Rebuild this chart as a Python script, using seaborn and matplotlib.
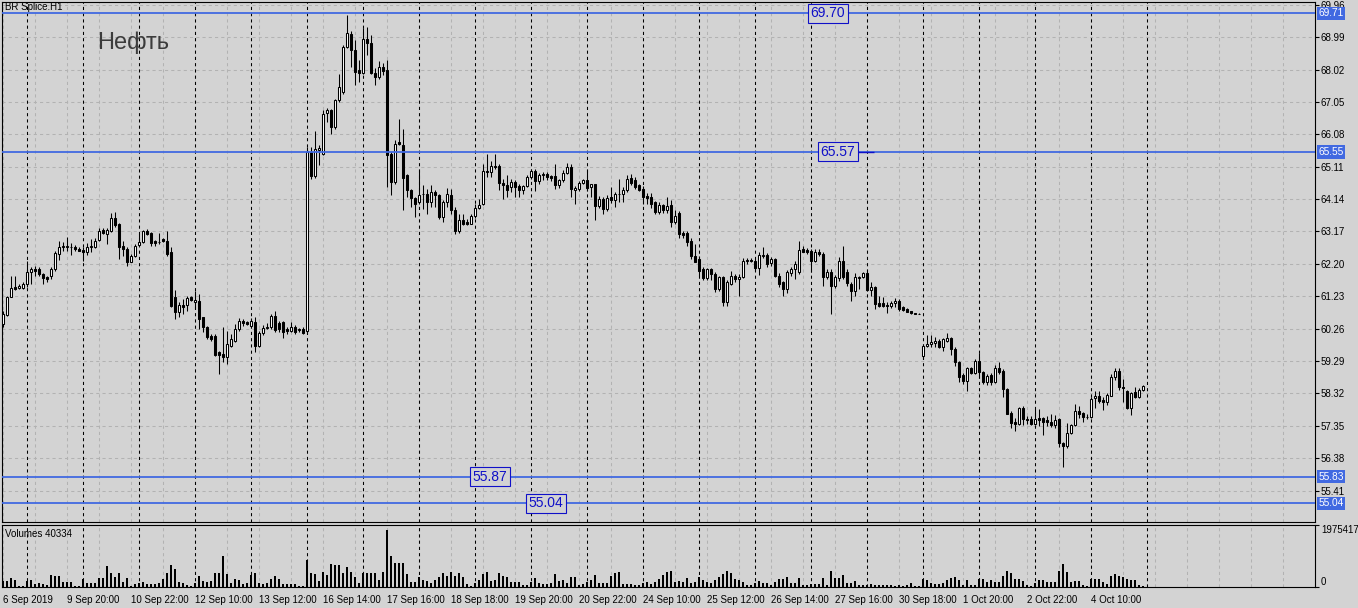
import numpy as np
import pandas as pd
import matplotlib
matplotlib.use("Agg")
import matplotlib.pyplot as plt
import matplotlib.transforms as mtransforms
import seaborn as sns

# ---------------- data ----------------
symbol_label = "BR Splice.H1"
chart_title = "Нефть"
volume_label = "Volumes 40334"

opens = [
    60.40, 60.68, 61.22, 61.50, 61.49, 61.49,
    61.60, 61.97, 62.06, 62.06, 61.90, 61.80, 61.85, 62.06, 62.50, 62.72, 62.72, 62.72, 62.70, 62.66,
    62.63, 62.55, 62.72, 62.72, 62.93, 63.20, 63.08, 63.17, 63.56, 63.38, 62.75, 62.66, 62.27, 62.45,
    62.78, 62.87, 63.17, 63.12, 62.88, 62.85, 62.94, 62.90, 62.57, 61.20, 60.75, 60.98, 60.98, 61.20,
    61.05, 61.10, 60.60, 60.30, 60.05, 60.05, 59.55, 59.50, 59.40, 59.75, 59.90, 60.26, 60.50, 60.45,
    60.35, 60.45, 59.75, 60.12, 60.28, 60.30, 60.65, 60.43, 60.45, 60.25, 60.20, 60.32, 60.22, 60.25,
    60.20, 65.55, 64.82, 65.60, 65.50, 66.72, 66.82, 66.30, 67.10, 67.35, 68.70, 69.08, 68.60, 68.00,
    67.92, 68.93, 68.80, 67.92, 67.80, 68.10, 68.00, 65.50, 64.65, 65.85, 65.77, 64.85, 64.40, 64.18,
    64.05, 64.28, 64.30, 64.05, 64.35, 64.25, 63.60, 64.05, 64.25, 63.82, 63.17, 63.50, 63.45, 63.40,
    63.62, 63.87, 64.00, 64.97, 64.95, 65.13, 65.12, 64.63, 64.55, 64.50, 64.65, 64.52, 64.42, 64.52,
    64.80, 64.97, 64.67, 64.85, 64.88, 64.82, 64.82, 64.55, 64.70, 64.93, 65.10, 64.42, 64.45, 64.62,
    64.70, 64.50, 64.60, 63.92, 64.15, 63.85, 64.20, 64.12, 64.30, 64.30, 64.40, 64.78, 64.70, 64.55,
    64.45, 64.22, 64.20, 64.05, 63.75, 63.95, 63.82, 63.95, 63.45, 63.72, 63.13, 63.13, 62.90, 62.45,
    62.35, 62.05, 61.78, 62.05, 61.90, 61.45, 61.80, 61.05, 61.60, 61.85, 61.75, 61.82, 62.30, 62.32,
    62.30, 62.08, 62.45, 62.48, 62.22, 62.35, 61.85, 61.65, 61.45, 61.93, 62.05, 61.95, 62.65, 62.62,
    62.60, 62.30, 62.57, 62.50, 61.82, 61.95, 61.55, 61.78, 62.30, 61.97, 61.60, 61.38, 61.78, 61.80,
    61.93, 61.42, 61.50, 61.03, 61.04, 60.97, 60.93, 61.03, 61.10, 60.90, 60.85, 60.78, 60.72, 60.71,
    59.45, 59.73, 59.80, 59.83, 59.90, 59.70, 59.90, 59.97, 59.65, 59.25, 58.88, 58.70, 59.08, 58.93,
    59.28, 58.97, 58.67, 58.87, 58.67, 59.08, 58.98, 58.45, 57.75, 57.47, 57.40, 57.88, 57.57, 57.57,
    57.40, 57.58, 57.58, 57.52, 57.48, 57.37, 57.55, 56.85, 56.75, 57.15, 57.37, 57.80, 57.73, 57.63,
    57.63, 58.17, 58.25, 58.12, 58.05, 58.25, 58.80, 58.98, 58.52, 58.40, 57.90, 58.35, 58.22, 58.42,
]
highs = [
    60.80, 61.25, 61.85, 61.85, 61.60, 61.65,
    62.30, 62.10, 62.15, 62.10, 61.93, 61.85, 62.10, 62.60, 62.90, 62.85, 63.00, 62.82, 62.78, 62.72,
    62.72, 62.82, 62.95, 62.98, 63.28, 63.28, 63.28, 63.72, 63.76, 63.43, 62.88, 62.72, 62.50, 62.80,
    63.10, 63.20, 63.25, 63.15, 62.92, 63.12, 62.98, 63.18, 62.70, 61.43, 61.05, 61.15, 61.25, 61.25,
    61.40, 61.30, 60.60, 60.35, 60.10, 60.10, 59.60, 60.30, 60.20, 60.10, 60.40, 60.58, 60.55, 60.50,
    60.58, 60.60, 60.20, 60.37, 60.42, 60.70, 60.80, 60.50, 60.50, 60.30, 60.45, 60.38, 60.28, 60.30,
    65.70, 65.70, 66.17, 65.75, 66.80, 66.88, 66.85, 67.15, 67.90, 68.75, 69.65, 69.17, 68.90, 68.30,
    69.25, 69.30, 69.05, 68.05, 68.27, 68.20, 68.30, 65.55, 65.90, 66.53, 66.25, 64.90, 64.45, 64.20,
    65.00, 64.55, 64.43, 64.55, 64.42, 64.30, 64.12, 64.48, 64.43, 63.90, 63.68, 63.68, 63.55, 63.70,
    64.00, 64.15, 65.20, 65.50, 65.28, 65.50, 65.20, 64.75, 64.85, 64.75, 64.72, 64.60, 64.57, 64.85,
    65.05, 65.05, 64.93, 64.95, 64.95, 64.87, 65.20, 64.75, 65.00, 65.22, 65.20, 64.52, 64.68, 64.75,
    65.00, 64.60, 64.60, 64.22, 64.20, 64.25, 64.50, 64.35, 64.75, 64.50, 64.85, 64.90, 64.80, 64.60,
    64.52, 64.33, 64.33, 64.08, 64.05, 63.98, 64.20, 64.10, 63.80, 63.78, 63.17, 63.17, 62.97, 62.80,
    62.45, 62.10, 62.08, 62.08, 61.97, 61.85, 61.85, 61.73, 61.98, 61.90, 61.90, 62.37, 62.38, 62.37,
    62.35, 62.55, 62.72, 62.52, 62.40, 62.38, 61.92, 61.70, 62.03, 62.10, 62.28, 62.90, 62.75, 62.67,
    62.65, 62.65, 62.65, 62.55, 62.05, 62.05, 61.87, 62.40, 62.75, 62.05, 61.65, 61.92, 61.85, 61.95,
    61.98, 61.65, 61.55, 61.25, 61.20, 61.07, 61.10, 61.17, 61.15, 60.93, 60.87, 60.80, 60.73, 60.72,
    59.80, 60.08, 60.08, 60.00, 59.95, 59.98, 60.12, 60.02, 59.70, 59.30, 58.93, 59.12, 59.12, 59.35,
    59.52, 59.00, 58.90, 58.93, 59.18, 59.25, 59.05, 58.48, 57.80, 57.60, 57.93, 57.95, 57.65, 57.65,
    57.85, 57.85, 57.63, 57.65, 57.72, 57.67, 57.58, 56.88, 57.45, 57.42, 58.00, 57.95, 57.78, 57.70,
    58.22, 58.38, 58.38, 58.22, 58.32, 58.90, 59.07, 59.07, 58.75, 58.43, 58.37, 58.52, 58.47, 58.58,
]
lows = [
    60.30, 60.65, 61.20, 61.43, 61.45, 61.45,
    61.52, 61.60, 61.85, 61.85, 61.60, 61.65, 61.76, 62.00, 62.33, 62.60, 62.60, 62.48, 62.60, 62.58,
    62.30, 62.48, 62.55, 62.68, 62.90, 63.08, 62.80, 63.15, 63.30, 62.35, 62.45, 62.15, 62.25, 62.42,
    62.75, 62.84, 63.05, 62.73, 62.75, 62.80, 62.86, 62.45, 60.90, 60.55, 60.60, 60.70, 60.80, 61.10,
    60.85, 60.25, 60.15, 59.95, 59.90, 59.45, 58.90, 59.25, 59.20, 59.70, 59.85, 60.20, 60.35, 60.38,
    60.33, 59.55, 59.70, 60.08, 60.25, 60.25, 60.15, 60.15, 59.98, 60.10, 60.15, 60.10, 60.15, 60.10,
    60.10, 64.75, 64.78, 65.15, 65.45, 66.45, 66.10, 66.25, 67.05, 67.30, 68.65, 68.10, 67.55, 67.65,
    67.88, 68.45, 67.88, 67.55, 67.75, 67.85, 64.50, 64.25, 64.60, 65.75, 63.80, 64.20, 63.90, 63.60,
    64.00, 63.85, 63.70, 63.90, 63.90, 63.53, 63.45, 63.90, 63.70, 63.08, 63.13, 63.35, 63.35, 63.38,
    63.58, 63.83, 63.95, 64.80, 64.80, 65.05, 64.40, 64.15, 64.20, 64.35, 64.20, 64.20, 64.30, 64.50,
    64.75, 64.37, 64.60, 64.70, 64.72, 64.68, 64.45, 64.47, 64.65, 64.88, 64.20, 64.00, 64.38, 64.60,
    64.38, 64.20, 63.50, 63.88, 63.70, 63.78, 64.02, 63.90, 64.05, 64.05, 64.35, 64.55, 64.45, 64.38,
    64.00, 64.00, 63.88, 63.70, 63.68, 63.72, 63.72, 63.30, 63.38, 62.98, 62.98, 62.75, 62.35, 62.25,
    61.85, 61.72, 61.72, 61.72, 61.37, 61.40, 60.95, 60.93, 61.58, 61.65, 61.25, 61.78, 62.20, 62.25,
    61.98, 61.88, 62.37, 62.12, 62.15, 61.80, 61.52, 61.25, 61.33, 61.85, 61.75, 61.90, 62.55, 62.50,
    61.95, 62.27, 62.45, 61.55, 61.75, 60.70, 61.48, 61.70, 61.75, 61.55, 61.10, 61.25, 61.45, 61.78,
    61.40, 61.25, 60.85, 60.90, 60.90, 60.74, 60.88, 60.90, 60.80, 60.80, 60.75, 60.70, 60.70, 60.70,
    59.35, 59.70, 59.70, 59.70, 59.67, 59.60, 59.87, 59.48, 59.15, 58.65, 58.60, 58.40, 58.90, 58.90,
    58.78, 58.60, 58.58, 58.58, 58.63, 58.90, 58.20, 57.70, 57.30, 57.20, 57.38, 57.37, 57.42, 57.38,
    57.38, 57.35, 57.08, 57.35, 57.33, 57.28, 56.72, 56.12, 56.70, 57.12, 57.35, 57.60, 57.47, 57.55,
    57.58, 57.90, 58.02, 57.82, 57.98, 58.23, 58.73, 58.42, 58.07, 57.85, 57.68, 58.18, 58.18, 58.40,
]
closes = [
    60.70, 61.22, 61.49, 61.46, 61.54, 61.60,
    61.97, 62.06, 62.00, 61.90, 61.78, 61.76, 62.06, 62.53, 62.72, 62.75, 62.72, 62.70, 62.65, 62.60,
    62.55, 62.72, 62.74, 62.90, 63.17, 63.12, 63.20, 63.56, 63.35, 62.70, 62.66, 62.27, 62.45, 62.75,
    62.86, 63.17, 63.10, 62.83, 62.83, 62.87, 62.88, 62.50, 60.95, 60.75, 60.98, 60.90, 61.17, 61.12,
    61.12, 60.55, 60.30, 60.00, 59.95, 59.48, 59.48, 59.42, 59.80, 59.95, 60.25, 60.50, 60.43, 60.40,
    60.50, 59.75, 60.12, 60.28, 60.32, 60.65, 60.22, 60.25, 60.15, 60.18, 60.32, 60.15, 60.25, 60.12,
    65.55, 64.82, 65.65, 65.68, 66.70, 66.82, 66.30, 67.10, 67.50, 68.70, 69.10, 68.60, 67.95, 67.92,
    68.93, 68.80, 67.92, 67.80, 68.10, 67.98, 65.45, 64.65, 65.80, 65.78, 64.78, 64.40, 64.18, 64.00,
    64.25, 64.30, 64.05, 64.35, 64.25, 63.60, 64.05, 64.30, 63.80, 63.17, 63.50, 63.40, 63.40, 63.62,
    63.87, 63.97, 64.97, 64.95, 65.13, 65.10, 64.62, 64.55, 64.42, 64.65, 64.50, 64.40, 64.52, 64.80,
    64.97, 64.67, 64.85, 64.88, 64.80, 64.77, 64.55, 64.70, 64.93, 65.10, 64.45, 64.48, 64.62, 64.70,
    64.48, 64.58, 63.92, 64.15, 63.85, 64.18, 64.12, 64.28, 64.30, 64.40, 64.75, 64.63, 64.50, 64.42,
    64.20, 64.17, 64.00, 63.75, 63.95, 63.82, 63.92, 63.45, 63.62, 63.10, 63.05, 62.85, 62.43, 62.27,
    62.00, 61.78, 62.05, 61.90, 61.45, 61.80, 61.05, 61.65, 61.85, 61.75, 61.82, 62.30, 62.32, 62.30,
    62.08, 62.48, 62.47, 62.20, 62.35, 61.85, 61.60, 61.45, 61.95, 62.05, 62.20, 62.62, 62.57, 62.55,
    62.30, 62.55, 62.50, 61.82, 61.95, 61.55, 61.80, 62.28, 61.82, 61.62, 61.38, 61.80, 61.82, 61.93,
    61.42, 61.50, 61.00, 60.95, 60.95, 60.95, 61.03, 61.10, 60.86, 60.83, 60.77, 60.72, 60.71, 60.71,
    59.73, 59.80, 59.85, 59.90, 59.70, 59.95, 59.97, 59.65, 59.25, 58.80, 58.68, 59.08, 58.93, 59.28,
    58.95, 58.67, 58.85, 58.67, 59.08, 58.95, 58.45, 57.72, 57.45, 57.40, 57.88, 57.55, 57.52, 57.40,
    57.55, 57.53, 57.48, 57.47, 57.37, 57.52, 56.85, 56.75, 57.15, 57.37, 57.80, 57.70, 57.62, 57.62,
    58.15, 58.25, 58.10, 58.05, 58.27, 58.80, 58.98, 58.52, 58.47, 57.90, 58.33, 58.22, 58.43, 58.55,
]
volumes_k = [
    200, 195, 271, 217, 22, 22,
    195, 217, 87, 130, 108, 76, 380, 347, 347, 163, 163, 163, 22, 22,
    239, 130, 130, 130, 271, 271, 673, 456, 325, 456, 163, 271, 22, 87,
    130, 163, 108, 108, 108, 130, 239, 456, 705, 564, 163, 130, 54, 22,
    130, 347, 195, 163, 195, 434, 434, 998, 412, 130, 239, 217, 87, 130,
    380, 434, 130, 108, 130, 239, 347, 239, 87, 87, 87, 87, 22, 22,
    868, 434, 412, 195, 477, 380, 738, 705, 705, 456, 629, 488, 304, 130,
    434, 434, 434, 434, 217, 466, 1812, 998, 759, 759, 759, 412, 163, 163,
    304, 217, 195, 130, 217, 325, 456, 347, 466, 347, 434, 304, 87, 22,
    130, 217, 412, 488, 195, 217, 456, 347, 304, 163, 163, 163, 54, 54,
    163, 271, 130, 87, 87, 130, 412, 195, 217, 130, 304, 304, 54, 108,
    163, 217, 380, 130, 130, 130, 347, 434, 488, 87, 108, 108, 54, 54,
    130, 163, 108, 163, 239, 380, 488, 521, 163, 195, 163, 271, 130, 163,
    304, 217, 163, 130, 217, 325, 412, 521, 456, 239, 217, 163, 54, 54,
    130, 195, 130, 130, 54, 163, 239, 239, 304, 130, 130, 271, 54, 54,
    108, 108, 87, 271, 54, 521, 271, 271, 380, 130, 130, 195, 54, 54,
    54, 87, 54, 54, 54, 54, 54, 22, 54, 43, 54, 130, 33, 33,
    239, 217, 130, 108, 108, 130, 217, 271, 304, 217, 54, 217, 54, 54,
    239, 239, 163, 217, 163, 163, 347, 521, 456, 239, 239, 195, 54, 22,
    130, 217, 217, 163, 163, 163, 521, 738, 488, 163, 195, 195, 54, 22,
    239, 239, 239, 163, 108, 347, 412, 347, 304, 239, 217, 217, 54, 22,
]
# bars per trading session: 6 Sep (partial) ... 4 Oct
session_days = ["6 Sep", "9 Sep", "10 Sep", "11 Sep", "12 Sep", "13 Sep", "16 Sep", "17 Sep",
                "18 Sep", "19 Sep", "20 Sep", "23 Sep", "24 Sep", "25 Sep", "26 Sep", "27 Sep",
                "30 Sep", "1 Oct", "2 Oct", "3 Oct", "4 Oct"]
bars_per_day = [6, 14, 14, 14, 14, 14, 14, 14, 14, 14, 14, 14, 14, 14, 14, 14, 14, 14, 14, 14, 14]

time_labels = ["6 Sep 2019", "9 Sep 20:00", "10 Sep 22:00", "12 Sep 10:00", "13 Sep 12:00",
               "16 Sep 14:00", "17 Sep 16:00", "18 Sep 18:00", "19 Sep 20:00", "20 Sep 22:00",
               "24 Sep 10:00", "25 Sep 12:00", "26 Sep 14:00", "27 Sep 16:00", "30 Sep 18:00",
               "1 Oct 20:00", "2 Oct 22:00", "4 Oct 10:00"]
price_ticks = [69.96, 68.99, 68.02, 67.05, 66.08, 65.11, 64.14, 63.17, 62.20, 61.23,
               60.26, 59.29, 58.32, 57.35, 56.38, 55.41]
level_values = [69.71, 65.55, 55.83, 55.04]
level_tags = ["69.71", "65.55", "55.83", "55.04"]
note_texts = ["69.70", "65.57", "55.87", "55.04"]
volume_max = 1975417

# ---------------- styling / layout ----------------
BG = "#d3d3d3"
LINE_BLUE = "#4169e1"
NOTE_BLUE = "#1010c8"
GRID = "#b2b2b2"

sns.set_style("white", rc={"axes.facecolor": BG, "figure.facecolor": BG,
                           "axes.edgecolor": "black"})
plt.rcParams["font.family"] = ["Liberation Sans", "DejaVu Sans"]

df = pd.DataFrame({"bar": np.arange(len(closes)), "open": opens, "high": highs,
                   "low": lows, "close": closes,
                   "volume": np.array(volumes_k, dtype=float) * 1000})

W, H = 1358, 608
fig = plt.figure(figsize=(W / 100, H / 100), dpi=100)


def px_axes(l, t, r, b):
    return fig.add_axes([l / W, 1 - b / H, (r - l) / W, (b - t) / H])


ax = px_axes(2, 2, 1315, 522)
axv = px_axes(2, 525, 1315, 587)

XL = (-0.17, -0.17 + 1313 / 4)
grid_idx = np.arange(0, 329, 8)
label_idx = np.arange(0, 16 * len(time_labels), 16)
separators = np.cumsum(bars_per_day)
dash = (0, (3, 3))

for a in (ax, axv):
    a.set_facecolor(BG)
    for s in a.spines.values():
        s.set_color("black")
        s.set_linewidth(0.8)
    a.set_axisbelow(True)
    for s in separators:
        a.axvline(s, color="black", lw=0.75, ls=dash, zorder=1.5)

# ---- main price panel ----
ax.set_xlim(*XL)
ax.set_ylim(54.472, 70.041)
ax.set_xticks(grid_idx)
ax.tick_params(axis="x", length=0, labelbottom=False)
ax.yaxis.tick_right()
ax.set_yticks(price_ticks, labels=[f"{p:.2f}" for p in price_ticks])
ax.tick_params(axis="y", direction="out", length=3, width=0.8, pad=1.2,
               labelsize=7, colors="black")
ax.grid(True, color=GRID, lw=0.75, ls=dash)

up = df["close"] >= df["open"]
ax.vlines(df["bar"], df["low"], df["high"], color="black", lw=0.75, zorder=3)
body_bottom = np.minimum(df["open"], df["close"])
body_h = np.maximum((df["close"] - df["open"]).abs(), 0.004)
ax.bar(df["bar"][up], body_h[up], bottom=body_bottom[up], width=0.55,
       color="white", edgecolor="black", linewidth=0.75, zorder=4)
ax.bar(df["bar"][~up], body_h[~up], bottom=body_bottom[~up], width=0.55,
       color="black", edgecolor="black", linewidth=0.75, zorder=4)

trans = mtransforms.blended_transform_factory(ax.transAxes, ax.transData)
note_x = [206.3, 208.8, 121.8, 135.8]
for v, tag, txt, nx in zip(level_values, level_tags, note_texts, note_x):
    ax.axhline(v, color=LINE_BLUE, lw=1.3, zorder=5)
    ax.text(1.0 + 3.2 / 1313, v, tag, transform=trans, ha="left", va="center",
            fontsize=7.3, color="white", clip_on=False, zorder=6,
            bbox=dict(boxstyle="square,pad=0.15", fc=LINE_BLUE, ec="none"))
    ax.text(nx, v, txt, ha="center", va="center", fontsize=10, color=NOTE_BLUE,
            zorder=7, bbox=dict(boxstyle="square,pad=0.18", fc=BG, ec=NOTE_BLUE, lw=0.8))
ax.hlines(level_values[1], note_x[1] + 5, note_x[1] + 9, color=NOTE_BLUE, lw=1.0, zorder=6)

ax.text(3 / 1313, 1 - 5.5 / 520, symbol_label, transform=ax.transAxes,
        fontsize=7, ha="left", va="center", color="black")
ax.text(95 / 1313, 1 - 40.5 / 520, chart_title, transform=ax.transAxes,
        fontsize=17, ha="left", va="center", color="#3c3c3c")

# ---- volume panel (seaborn) ----
sns.barplot(data=df, x="bar", y="volume", native_scale=True, color="black",
            width=0.5, errorbar=None, edgecolor="black", linewidth=0,
            saturation=1, ax=axv)
axv.set_xlim(*XL)
axv.set_ylim(0, volume_max)
axv.set_xlabel("")
axv.set_ylabel("")
axv.set_xticks(label_idx, labels=time_labels)
for lab in axv.get_xticklabels():
    lab.set_ha("left")
axv.set_xticks(grid_idx, minor=True)
axv.tick_params(axis="x", which="major", direction="out", length=4, width=0.8,
                pad=1.5, labelsize=7, colors="black")
axv.tick_params(axis="x", which="minor", length=0)
axv.grid(True, which="both", axis="x", color=GRID, lw=0.75, ls=dash)
axv.grid(False, axis="y")
axv.yaxis.tick_right()
axv.set_yticks([0, volume_max], labels=["0", str(volume_max)])
axv.tick_params(axis="y", direction="out", length=3, width=0.8, pad=1.2,
                labelsize=7, colors="black")
ylabs = axv.get_yticklabels()
ylabs[0].set_va("bottom")
ylabs[1].set_va("top")
axv.text(3 / 1313, 1 - 9 / 62, volume_label, transform=axv.transAxes,
         fontsize=7, ha="left", va="center", color="black")

fig.savefig("out.png", dpi=100, facecolor=BG)
